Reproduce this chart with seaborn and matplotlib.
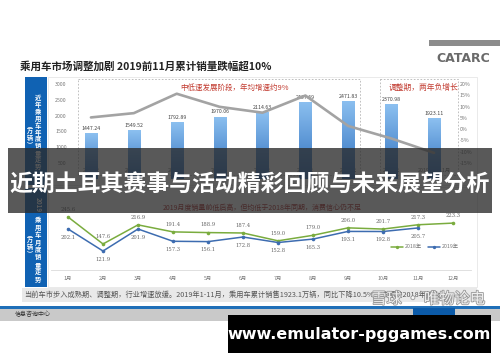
import numpy as np
import pandas as pd
import matplotlib
matplotlib.use("Agg")
import matplotlib.pyplot as plt
import seaborn as sns
from matplotlib.patches import Rectangle
from matplotlib.lines import Line2D
from matplotlib.colors import LinearSegmentedColormap
import matplotlib.patheffects as pe

# ---------------- data ----------------
years = ["2011年", "2012年", "2013年", "2014年", "2015年", "2016年", "2017年", "2018年", "2019年1-11月"]
annual_sales = [1447.24, 1549.52, 1792.89, 1970.06, 2114.63, 2437.69, 2471.83, 2370.98, 1923.11]
annual_growth = [5.2, 7.1, 15.7, 9.9, 7.3, 14.9, 1.4, -4.1, -10.5]
sales_ticks = [500, 1000, 1500, 2000, 2500, 3000]
growth_ticks = [-15, -10, -5, 0, 5, 10, 15, 20]

months = ["1月", "2月", "3月", "4月", "5月", "6月", "7月", "8月", "9月", "10月", "11月", "12月"]
sales_2018 = [245.6, 147.6, 216.9, 191.4, 188.9, 187.4, 159.0, 179.0, 206.0, 201.7, 217.3, 223.3]
sales_2019 = [202.1, 121.9, 201.9, 157.3, 156.1, 172.8, 152.8, 165.3, 193.1, 192.8, 205.7]
series_names = ["2018年", "2019年"]

# ---------------- setup ----------------
sns.set_theme(style="white")
plt.rcParams["font.family"] = ["Noto Sans CJK SC", "DejaVu Sans"]
W, H = 500, 362
fig = plt.figure(figsize=(W / 100, H / 100), dpi=100, facecolor="white")


def rect(x0, y0, x1, y1):
    return [x0 / W, 1 - y1 / H, (x1 - x0) / W, (y1 - y0) / H]


bg = fig.add_axes([0, 0, 1, 1], zorder=0)
bg.set_xlim(0, W)
bg.set_ylim(H, 0)
bg.axis("off")

# header
bg.add_patch(Rectangle((429, 40), 71, 6, fc="#8c8c8c", ec="none"))
bg.text(463, 58, "CATARC", fontsize=9, fontweight="bold", color="#6a6a6a",
        ha="center", va="center", family="DejaVu Sans")
bg.text(20, 66, "乘用车市场调整加剧 2019前11月累计销量跌幅超10%", fontsize=7.6,
        fontweight="bold", color="#222222", ha="left", va="center")

# panels
bg.add_patch(Rectangle((48, 77), 429, 108, fc="white", ec="#e2e2e2", lw=0.5))
bg.add_patch(Rectangle((48, 187), 429, 100, fc="white", ec="#e2e2e2", lw=0.5))
bg.add_patch(Rectangle((25, 77), 22, 108, fc="#1062b3", ec="none"))
bg.add_patch(Rectangle((25, 188), 22, 99, fc="#1062b3", ec="none"))


def vtext(x, y_center, s, pitch, fs):
    n = len(s)
    y0 = y_center - (n - 1) * pitch / 2
    for k, ch in enumerate(s):
        bg.text(x, y0 + k * pitch, ch, fontsize=fs, color="white", fontweight="bold",
                ha="center", va="center")


vtext(38, 132, "近年乘用车年度销量走势", 6.8, 4.6)
vtext(29.5, 134, "︵万辆︶", 6.2, 4.4)
bg.text(38, 205, "2019", fontsize=4.6, color="white", fontweight="bold",
        rotation=-90, ha="center", va="center")
vtext(38, 249.5, "乘用车月度销量走势", 7.4, 4.6)
vtext(29.5, 243, "︵万辆︶", 6.2, 4.4)

# dashed boxes + notes
bg.add_patch(Rectangle((78, 79), 282, 96, fc="none", ec="#b5b5b5", lw=0.6, ls=(0, (2, 2))))
bg.add_patch(Rectangle((380, 79), 78, 96, fc="none", ec="#b5b5b5", lw=0.6, ls=(0, (2, 2))))
bg.text(235, 88, "中低速发展阶段，年均增速约9%", fontsize=5.4, color="#c23b30",
        ha="center", va="center")
bg.text(424, 88, "调整期，两年负增长", fontsize=5.6, color="#c23b30",
        ha="center", va="center")
bg.text(262, 208, "2019月度销量前低后高，但均低于2018年同期，消费信心仍不足",
        fontsize=5.0, color="#b02a2a", ha="center", va="center")

# footer
bg.add_patch(Rectangle((22, 288), 455, 14, fc="#e9e9e9", ec="none"))
bg.text(24, 295, "当前车市步入成熟期、调整期，行业增速放缓。2019年1-11月，乘用车累计销售1923.1万辆，同比下降10.5%，跌幅较2018年扩大",
        fontsize=5.2, color="#555555", ha="left", va="center")
bg.add_patch(Rectangle((0, 306), 500, 3, fc="#1f6fb8", ec="none"))
bg.add_patch(Rectangle((0, 309), 500, 12, fc="#c9c9c9", ec="none"))
bg.add_patch(Rectangle((413, 308), 42, 11, fc="#0b5aa8", ec="none"))
bg.text(15, 314.5, "信息咨询中心", fontsize=4.3, color="#333333", ha="left", va="center")

# ---------------- top chart ----------------
ax1 = fig.add_axes(rect(69.5, 81.5, 455.5, 164.6), zorder=1)
ax1.patch.set_alpha(0)
sns.barplot(x=years, y=annual_sales, color="#4a8ad4", width=0.28, saturation=1, ax=ax1)
cmap = LinearSegmentedColormap.from_list("bar", ["#2f6fbd", "#8cc0f0"])
grad = np.linspace(0, 1, 128).reshape(-1, 1)
for p in list(ax1.patches):
    x0, y0, w, h = p.get_x(), p.get_y(), p.get_width(), p.get_height()
    im = ax1.imshow(grad, extent=[x0, x0 + w, y0, y0 + h], aspect="auto",
                    cmap=cmap, origin="lower", zorder=p.get_zorder() + 0.1)
    im.set_clip_path(p)
for i, v in enumerate(annual_sales):
    ax1.annotate(f"{v:.2f}", (i, v), xytext=(0, 1.5), textcoords="offset points",
                 ha="center", va="bottom", fontsize=3.8, color="#444444")
ax1.set_xlim(-0.5, 8.5)
ax1.set_ylim(450, 3080)
ax1.set_yticks(sales_ticks)
ax1.set_yticklabels([str(t) for t in sales_ticks])
ax1.tick_params(axis="y", labelsize=3.8, colors="#777777", length=0, pad=2)
ax1.tick_params(axis="x", labelsize=3.8, colors="#777777", length=0, pad=2.5)
ax1.set_xlabel("")
ax1.set_ylabel("")
for s in ax1.spines.values():
    s.set_visible(False)

ax2 = ax1.twinx()
ax2.set_zorder(2)
ax2.patch.set_alpha(0)


def pct(v):
    return -15 + (v - 500) * 35 / 2500


sns.lineplot(x=np.arange(len(years)), y=annual_growth, color="#a3a3a3", linewidth=1.9, ax=ax2)
ax2.set_ylim(pct(450), pct(3080))
ax2.set_yticks(growth_ticks)
ax2.set_yticklabels([f"{t}%" for t in growth_ticks])
ax2.tick_params(axis="y", labelsize=3.8, colors="#777777", length=0, pad=3)
ax2.set_ylabel("")
ax2.set_xlim(-0.5, 8.5)
for s in ax2.spines.values():
    s.set_visible(False)

# ---------------- bottom chart ----------------
ax3 = fig.add_axes(rect(50.5, 194, 470.5, 270), zorder=1)
ax3.patch.set_alpha(0)
df = pd.concat([
    pd.DataFrame({"pos": np.arange(len(sales_2018)), "val": sales_2018, "series": series_names[0]}),
    pd.DataFrame({"pos": np.arange(len(sales_2019)), "val": sales_2019, "series": series_names[1]}),
])
colors = {series_names[0]: "#7aac3e", series_names[1]: "#3d6cb0"}
sns.lineplot(data=df, x="pos", y="val", hue="series", palette=colors, marker="o",
             markersize=2.6, markeredgewidth=0, linewidth=1.1, ax=ax3, legend=False)
for i, v in enumerate(sales_2018):
    ax3.annotate(f"{v:.1f}", (i, v), xytext=(0, 5.5), textcoords="offset points",
                 ha="center", va="center", fontsize=3.8, color="#666666", family="DejaVu Serif")
for i, v in enumerate(sales_2019):
    ax3.annotate(f"{v:.1f}", (i, v), xytext=(0, -6), textcoords="offset points",
                 ha="center", va="center", fontsize=3.8, color="#666666", family="DejaVu Serif")
ax3.set_xlim(-0.5, 11.5)
ax3.set_ylim(53, 329)
ax3.set_xticks(np.arange(12))
ax3.set_xticklabels(months)
ax3.set_yticks([])
ax3.tick_params(axis="x", labelsize=3.8, colors="#777777", length=0, pad=4)
ax3.set_xlabel("")
ax3.set_ylabel("")
for k, s in ax3.spines.items():
    s.set_visible(k == "bottom")
ax3.spines["bottom"].set_color("#dadada")
ax3.spines["bottom"].set_linewidth(0.6)
handles = [Line2D([0], [0], color=colors[n], lw=1.1, marker="o", markersize=2.4,
                  markeredgewidth=0) for n in series_names]
fig.legend(handles, series_names, loc="center", bbox_to_anchor=(425 / W, 1 - 247 / H),
           ncol=2, frameon=False, fontsize=3.8, handlelength=2.2, columnspacing=1.2,
           handletextpad=0.4, labelcolor="#777777")

# ---------------- overlays ----------------
ov = fig.add_axes([0, 0, 1, 1], zorder=10)
ov.set_xlim(0, W)
ov.set_ylim(H, 0)
ov.axis("off")
ov.patch.set_alpha(0)
ov.add_patch(Rectangle((8, 148), 484, 65, fc="#2a2a2a", ec="none", alpha=0.78))
ov.text(250, 185, "近期土耳其赛事与活动精彩回顾与未来展望分析", fontsize=16.5,
        fontweight="bold", color="white", ha="center", va="center")
ov.text(428, 299, "雪球 · 唯物论电", fontsize=11, color="white", alpha=0.85,
        ha="center", va="center",
        path_effects=[pe.withStroke(linewidth=1.2, foreground="#8a8a8a")])
ov.add_patch(Rectangle((228, 315), 263, 38, fc="black", ec="none"))
ov.text(359.5, 335, "www.emulator-pggames.com", fontsize=11.5, fontweight="bold",
        color="white", ha="center", va="center", family="DejaVu Sans")

fig.savefig("out.png", dpi=100, facecolor="white")
